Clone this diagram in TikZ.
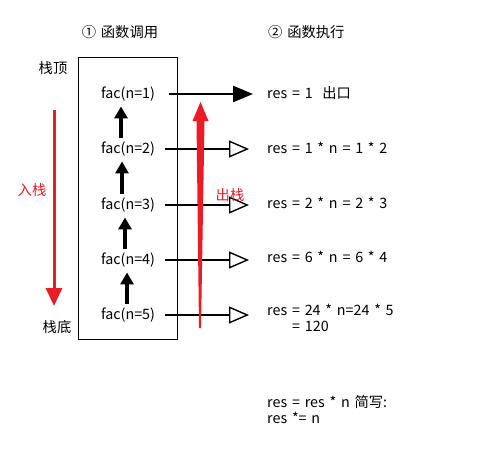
\documentclass[tikz,border=0pt]{standalone}
\usepackage{fontspec}
\setmainfont[WordSpace=1.5]{Noto Sans CJK SC}
\usetikzlibrary{arrows.meta}
\definecolor{myred}{RGB}{237,28,36}
\begin{document}
\begin{tikzpicture}[x=1pt,y=-1pt,
  every node/.style={font=\fontsize{14.3}{16}\selectfont, inner sep=0pt},
  lbl/.style={text=black},
  redlbl/.style={text=myred},
  res/.style={anchor=west, align=left},
  uparrow/.style={line width=4pt, -{Triangle[length=12pt,width=13pt]}, shorten <=4pt, shorten >=5pt},
  outfilled/.style={line width=2.5pt, -{Triangle[length=20pt,width=16pt]}, shorten <=14pt, shorten >=14pt},
  outopen/.style={line width=2.2pt, -{Triangle[open, length=20pt,width=17pt, line width=1.4pt, fill=white]}, shorten <=10pt, shorten >=18pt}
]
\useasboundingbox (0,0) rectangle (497,461);
% headings
\node (h1) at (120,32) {① 函数调用};
\node[anchor=west] (h2) at (268,32) {② 函数执行};
% stack box
\node[draw, line width=0.8pt, minimum width=99pt, minimum height=282pt] (stack) at (127.5,198) {};
\node[lbl] (top) at (53,68) {栈顶};
\node[lbl] (bot) at (57,327) {栈底};
% fac nodes
\node (f1) at (128,94) {fac(n=1)};
\node (f2) at (128,149) {fac(n=2)};
\node (f3) at (128,205) {fac(n=3)};
\node (f4) at (128,260) {fac(n=4)};
\node (f5) at (128,315) {fac(n=5)};
% result nodes
\node[res] (r1) at (267,93) {res = 1\ \ 出口};
\node[res] (r2) at (267,148) {res = 1 * n = 1 * 2};
\node[res] (r3) at (267,203) {res = 2 * n = 2 * 3};
\node[res] (r4) at (267,257) {res = 6 * n = 6 * 4};
\node[res, anchor=north west] (r5) at (267,304) {res = 24 * n=24 * 5\\\hspace{25pt}= 120};
\node[res, anchor=north west] (note) at (267,395) {res = res * n 简写:\\res *= n};
% small up arrows
\draw[uparrow] ([xshift=-7pt]f2.north) -- ([xshift=-7pt]f1.south);
\draw[uparrow] ([xshift=-6pt]f3.north) -- ([xshift=-6pt]f2.south);
\draw[uparrow] ([xshift=-3pt]f4.north) -- ([xshift=-3pt]f3.south);
\draw[uparrow] ([xshift=-1pt]f5.north) -- ([xshift=-1pt]f4.south);
% out arrows
\draw[outfilled] (f1.east) -- (f1.east -| r1.west);
\draw[outopen] (f2.east) -- (f2.east -| r2.west);
\draw[outopen] (f3.east) -- (f3.east -| r3.west);
\draw[outopen] (f4.east) -- (f4.east -| r4.west);
\draw[outopen] (f5.east) -- (f5.east -| r5.west);
% red push arrow
\node[redlbl] (push) at (32,190) {入栈};
\coordinate (ps) at (54,110);
\coordinate (pe) at (54,306);
\draw[myred, line width=3pt, -{Triangle[length=18pt,width=16pt]}] (ps) -- (pe);
% red pop arrow (tapered)
\fill[myred] (199,328) -- (201,328) -- (204.5,121) -- (208.5,121) -- (200.5,102) -- (192.5,121) -- (196.5,121) -- cycle;
\node[redlbl] (pop) at (230,195) {出栈};
\end{tikzpicture}
\end{document}
